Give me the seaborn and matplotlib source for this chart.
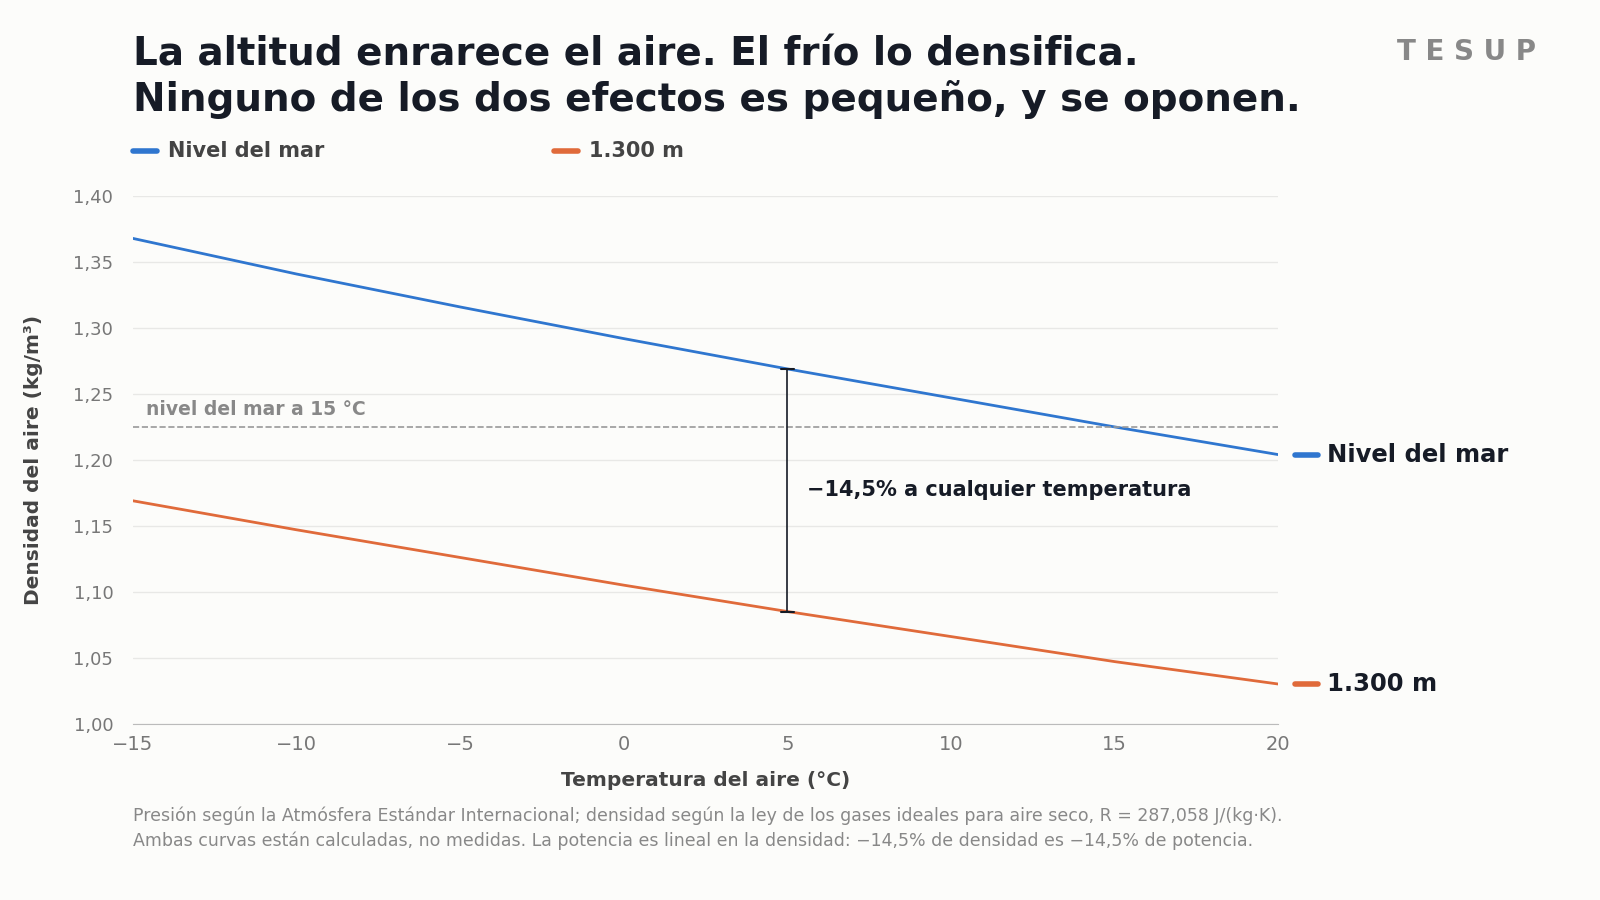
import matplotlib
matplotlib.use("Agg")
import matplotlib.pyplot as plt
import seaborn as sns
import pandas as pd

temps = [-15, -10, -5, 0, 5, 10, 15, 20]
sea_level = [1.368, 1.341, 1.316, 1.292, 1.269, 1.247, 1.225, 1.204]
alt_1300 = [1.169, 1.147, 1.126, 1.105, 1.085, 1.066, 1.047, 1.030]
series_names = ["Nivel del mar", "1.300 m"]
ref_density = 1.225
yticks = [1.00, 1.05, 1.10, 1.15, 1.20, 1.25, 1.30, 1.35, 1.40]
xticks = [-15, -10, -5, 0, 5, 10, 15, 20]

sns.set_style("white")
plt.rcParams['font.family'] = ['DejaVu Sans']
bg = "#FCFCFA"
blue, orange = "#2F76CF", "#E06A3A"
dark = "#161B26"

df = pd.DataFrame({"T": temps * 2, "rho": sea_level + alt_1300,
                   "serie": [series_names[0]] * len(temps) + [series_names[1]] * len(temps)})

fig = plt.figure(figsize=(16, 9), dpi=100, facecolor=bg)
ax = fig.add_axes([0.083, 0.196, 0.716, 0.586], facecolor=bg)
sns.lineplot(data=df, x="T", y="rho", hue="serie", palette=[blue, orange], lw=2, ax=ax, legend=False)

ax.set_xlim(-15, 20); ax.set_ylim(1.0, 1.4)
ax.set_xticks(xticks); ax.set_yticks(yticks)
ax.set_xticklabels([f"{t}".replace("-", "\u2212") for t in xticks], fontsize=14, color="#777")
ax.set_yticklabels([f"{y:.2f}".replace(".", ",") for y in yticks], fontsize=13, color="#777")
ax.grid(axis="y", color="#E8E8E6", lw=1)
for s in ["top", "right", "left"]:
    ax.spines[s].set_visible(False)
ax.spines["bottom"].set_color("#BBB")
ax.tick_params(axis="x", length=5, color="#BBB")
ax.tick_params(axis="y", length=0, pad=14)
ax.set_xlabel("Temperatura del aire (°C)", fontsize=14.5, fontweight="bold", color="#444", labelpad=12)
ax.set_ylabel("Densidad del aire (kg/m³)", fontsize=14.5, fontweight="bold", color="#444", labelpad=22)

ax.axhline(ref_density, color="#999", ls="--", lw=1.2)
ax.text(-14.6, ref_density + 0.006, "nivel del mar a 15 °C", fontsize=13.5, fontweight="bold", color="#888", va="bottom")

i5 = temps.index(5)
ax.plot([5, 5], [alt_1300[i5], sea_level[i5]], color=dark, lw=1.2)
ax.plot([4.8, 5.2], [sea_level[i5]] * 2, color=dark, lw=1.5)
ax.plot([4.8, 5.2], [alt_1300[i5]] * 2, color=dark, lw=1.5)
ax.text(5.6, 1.177, "\u221214,5% a cualquier temperatura", fontsize=15, fontweight="bold", color=dark, va="center")

for vals, c, n in [(sea_level, blue, series_names[0]), (alt_1300, orange, series_names[1])]:
    ax.plot([20.5, 21.2], [vals[-1]] * 2, color=c, lw=4, clip_on=False, solid_capstyle="round")
    ax.text(21.5, vals[-1], n, fontsize=17.5, fontweight="bold", color=dark, va="center")

fig.text(0.083, 0.96, "La altitud enrarece el aire. El frío lo densifica.\nNinguno de los dos efectos es pequeño, y se oponen.",
         fontsize=28, fontweight="bold", color=dark, va="top", linespacing=1.2)
fig.text(0.96, 0.942, "T E S U P", fontsize=20, fontweight="bold", color="#888", ha="right", va="center")
for x, c, n in [(0.083, blue, series_names[0]), (0.346, orange, series_names[1])]:
    fig.lines.append(plt.Line2D([x, x + 0.015], [0.832, 0.832], color=c, lw=4, transform=fig.transFigure, solid_capstyle="round"))
    fig.text(x + 0.022, 0.832, n, fontsize=15, fontweight="bold", color="#444", va="center")

fig.text(0.083, 0.104, "Presión según la Atmósfera Estándar Internacional; densidad según la ley de los gases ideales para aire seco, R = 287,058 J/(kg·K).\n"
         "Ambas curvas están calculadas, no medidas. La potencia es lineal en la densidad: \u221214,5% de densidad es \u221214,5% de potencia.",
         fontsize=12.5, color="#888", va="top", linespacing=1.45)

fig.savefig("out.png", dpi=100, facecolor=bg)
